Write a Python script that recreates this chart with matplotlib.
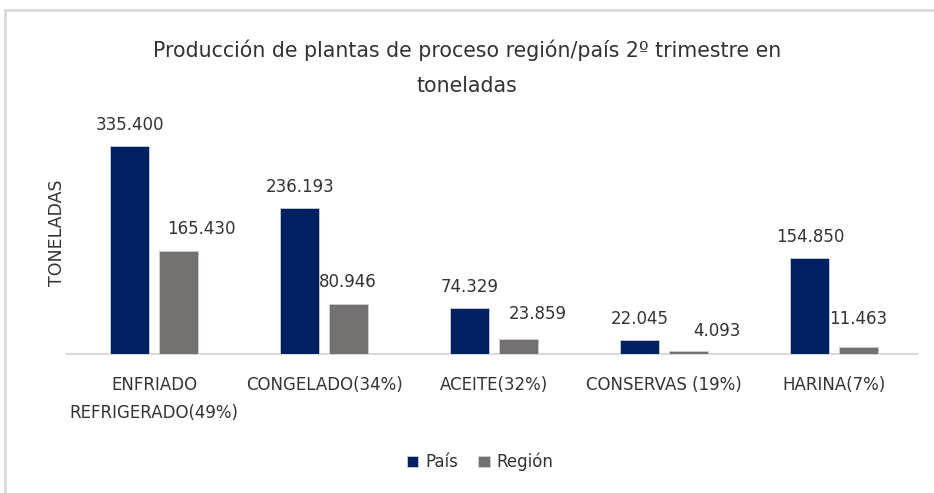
import matplotlib
matplotlib.use("Agg")
import matplotlib.pyplot as plt
from matplotlib.lines import Line2D
import numpy as np

categories = ["ENFRIADO\nREFRIGERADO(49%)", "CONGELADO(34%)", "ACEITE(32%)",
              "CONSERVAS (19%)", "HARINA(7%)"]
pais = [335400, 236193, 74329, 22045, 154850]
region = [165430, 80946, 23859, 4093, 11463]
series_names = ["País", "Región"]

title = "Producción de plantas de proceso región/país 2º trimestre en\ntoneladas"
ylabel = "TONELADAS"

NAVY = "#002060"
GRAY = "#767171"
TXT = "#333333"

# label offsets (points) for Región labels, as placed in the original
region_offsets = [(17, 16), (0, 16), (14, 18), (21, 15), (0, 20)]

plt.rcParams["font.family"] = ["DejaVu Sans"]

W, H = 934, 493
fig = plt.figure(figsize=(W / 100, H / 100), dpi=100)
fig.patch.set_facecolor("white")

ax_left, ax_right = 67 / W, 917 / W
ax_bottom = (H - 354) / H
ax_top = (H - 120) / H
ax = fig.add_axes([ax_left, ax_bottom, ax_right - ax_left, ax_top - ax_bottom])

x = np.arange(len(categories))
bw = 0.23
off = 0.142
b1 = ax.bar(x - off, pais, width=bw, color=NAVY, edgecolor="#c8cfdc", linewidth=0.6,
            label=series_names[0], zorder=3)
b2 = ax.bar(x + off, region, width=bw, color=GRAY, edgecolor="#d0d0d0", linewidth=0.6,
            label=series_names[1], zorder=3)

scale_top = max(pais) * 234 / 208
ax.set_ylim(0, scale_top)
ax.set_xlim(-0.512, 4.488)

def fmt(v):
    return f"{v:,}".replace(",", ".")

for xi, v in zip(x, pais):
    ax.annotate(fmt(v), (xi - off, v), xytext=(0, 15), textcoords="offset points",
                ha="center", va="center", fontsize=12, color=TXT)
for xi, v, (dx, dy) in zip(x, region, region_offsets):
    ax.annotate(fmt(v), (xi + off, v), xytext=(dx, dy), textcoords="offset points",
                ha="center", va="center", fontsize=12, color=TXT)

for s in ["top", "right", "left"]:
    ax.spines[s].set_visible(False)
ax.spines["bottom"].set_color("#d9d9d9")
ax.spines["bottom"].set_linewidth(1.5)
ax.set_yticks([])
ax.set_xticks(x)
ax.set_xticklabels(categories, fontsize=12, color=TXT, linespacing=1.7)
ax.tick_params(axis="x", length=0, pad=16)

fig.text(57 / W, 1 - 233 / H, ylabel, rotation=90, ha="center", va="center",
         fontsize=12.5, color=TXT)
fig.text(467 / W, 1 - 67.5 / H, title, ha="center", va="center", fontsize=14.8,
         color=TXT, linespacing=1.95)

fig.legend(handles=[b1, b2], labels=series_names, loc="center",
           bbox_to_anchor=(480 / W, 1 - 462 / H), ncol=2, frameon=False,
           fontsize=12, handlelength=0.7, handleheight=0.7, handletextpad=0.4,
           columnspacing=1.2, labelcolor=TXT)

# light frame (top and left edges visible in the original)
fig.add_artist(Line2D([5 / W, 1], [1 - 10 / H, 1 - 10 / H], transform=fig.transFigure,
                      color="#d9d9d9", lw=2))
fig.add_artist(Line2D([5 / W, 5 / W], [0, 1 - 10 / H], transform=fig.transFigure,
                      color="#d9d9d9", lw=2))

fig.savefig("out.png", dpi=100, facecolor="white")
